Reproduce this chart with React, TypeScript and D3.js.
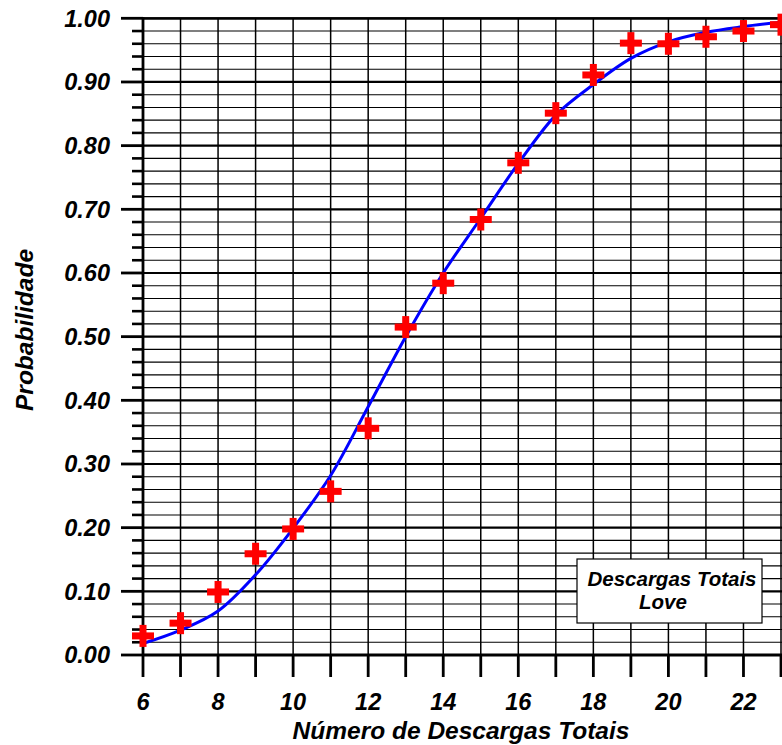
import React from "react";
import * as d3 from "d3";

const xValues = [6, 7, 8, 9, 10, 11, 12, 13, 14, 15, 16, 17, 18, 19, 20, 21, 22, 23];
const observed = [0.03, 0.05, 0.099, 0.159, 0.198, 0.257, 0.356, 0.515, 0.584, 0.684, 0.773, 0.851, 0.911, 0.961, 0.96, 0.971, 0.98, 0.99];
const fitted = [0.018, 0.039, 0.069, 0.126, 0.199, 0.282, 0.39, 0.5, 0.6, 0.686, 0.772, 0.848, 0.896, 0.937, 0.963, 0.978, 0.987, 0.994];
const xTickLabels = [6, 8, 10, 12, 14, 16, 18, 20, 22];
const yTickLabels = [0, 0.1, 0.2, 0.3, 0.4, 0.5, 0.6, 0.7, 0.8, 0.9, 1.0];
const yMinor = d3.range(0, 51).map((i) => i * 0.02);
const xGrid = d3.range(6, 24);
const legendLines = ["Descargas Totais", "Love"];
const xTitle = "Número de Descargas Totais";
const yTitle = "Probabilidade";

const W = 782;
const H = 745;
const FONT = "'Liberation Sans', Arial, sans-serif";

export default function App() {
  const x = d3.scaleLinear().domain([6, 23]).range([143, 781]);
  const y = d3.scaleLinear().domain([0, 1]).range([655, 18.3]);
  const [y0, y1] = y.range();
  const [x0, x1] = x.range();

  const line = d3
    .line<number>()
    .x((_, i) => x(xValues[i]))
    .y((d) => y(d))
    .curve(d3.curveCatmullRom.alpha(0.5));

  const isMajor = (v: number) => Math.abs(v * 10 - Math.round(v * 10)) < 1e-6;

  return (
    <svg width={W} height={H} style={{ display: "block", position: "absolute", left: 0, top: 0 }}>
      <style>{`body{margin:0}`}</style>
      <rect x={0} y={0} width={W} height={H} fill="#fff" />
      {/* horizontal grid */}
      {yMinor.map((v, i) => (
        <line
          key={"h" + i}
          x1={x0}
          x2={x1 + 2}
          y1={y(v)}
          y2={y(v)}
          stroke="#000"
          strokeWidth={isMajor(v) ? 2.2 : 1.1}
        />
      ))}
      {/* vertical grid */}
      {xGrid.map((v) => (
        <line key={"v" + v} x1={x(v)} x2={x(v)} y1={y1} y2={y0} stroke="#000" strokeWidth={1.5} />
      ))}
      {/* axes */}
      <line x1={x0} x2={x0} y1={y1 - 1} y2={y0 + 1} stroke="#000" strokeWidth={2.8} />
      <line x1={x0 - 1} x2={W} y1={y0} y2={y0} stroke="#000" strokeWidth={2.8} />
      <line x1={x0} x2={W} y1={y1} y2={y1} stroke="#000" strokeWidth={2.2} />
      {/* y ticks */}
      {yMinor.map((v, i) => (
        <line
          key={"yt" + i}
          x1={isMajor(v) ? 121 : 132}
          x2={x0}
          y1={y(v)}
          y2={y(v)}
          stroke="#000"
          strokeWidth={isMajor(v) ? 2.8 : 2.6}
        />
      ))}
      {yTickLabels.map((v) => (
        <text
          key={"yl" + v}
          x={110}
          y={y(v)}
          dy="0.36em"
          textAnchor="end"
          fontFamily={FONT}
          fontWeight="bold"
          fontStyle="italic"
          fontSize={23.5}
          fill="#000"
        >
          {v.toFixed(2)}
        </text>
      ))}
      {/* x ticks */}
      {xGrid.map((v) => (
        <line key={"xt" + v} x1={x(v)} x2={x(v)} y1={y0} y2={677} stroke="#000" strokeWidth={2.8} />
      ))}
      {xTickLabels.map((v) => (
        <text
          key={"xl" + v}
          x={x(v)}
          y={702}
          dy="0.36em"
          textAnchor="middle"
          fontFamily={FONT}
          fontWeight="bold"
          fontStyle="italic"
          fontSize={23.5}
          fill="#000"
        >
          {v}
        </text>
      ))}
      {/* titles */}
      <text
        x={461}
        y={739}
        textAnchor="middle"
        fontFamily={FONT}
        fontWeight="bold"
        fontStyle="italic"
        fontSize={24.5}
        fill="#000"
      >
        {xTitle}
      </text>
      <text
        transform={`translate(33,${330}) rotate(-90)`}
        textAnchor="middle"
        fontFamily={FONT}
        fontWeight="bold"
        fontStyle="italic"
        fontSize={24.5}
        fill="#000"
      >
        {yTitle}
      </text>
      {/* fitted curve */}
      <path d={line(fitted) || ""} fill="none" stroke="#0000ff" strokeWidth={3} />
      {/* observed markers */}
      {observed.map((v, i) => {
        const cx = x(xValues[i]);
        const cy = y(v);
        return (
          <g key={"m" + i} fill="#ff0000">
            <rect x={cx - 11} y={cy - 3.5} width={22} height={7} />
            <rect x={cx - 3.5} y={cy - 11} width={7} height={22} />
          </g>
        );
      })}
      {/* legend */}
      <rect x={577} y={559} width={185} height={64} fill="#fff" stroke="#000" strokeWidth={1.2} />
      {legendLines.map((t, i) => (
        <text
          key={"lg" + i}
          x={672}
          y={586 + i * 23}
          textAnchor="middle"
          fontFamily={FONT}
          fontWeight="bold"
          fontStyle="italic"
          fontSize={20.5}
          fill="#000"
          transform={i === 1 ? "translate(-9,0)" : undefined}
        >
          {t}
        </text>
      ))}
    </svg>
  );
}
